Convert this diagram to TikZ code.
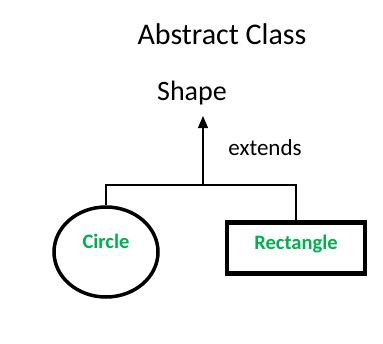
\documentclass[tikz,border=0pt]{standalone}
\usepackage{fontspec}
\setmainfont{Carlito}
\usetikzlibrary{arrows.meta,shapes.geometric}
\definecolor{clsgreen}{RGB}{0,176,80}

\tikzset{
  heading/.style={font=\fontsize{30}{34}\selectfont, inner sep=0pt},
  subclass/.style={draw, line width=3.5pt, inner sep=0pt},
  subname/.style={text=clsgreen, font=\fontsize{20.5}{24}\selectfont\bfseries, inner sep=0pt},
  link/.style={line width=1.2pt}
}

\begin{document}
\begin{tikzpicture}[x=1pt, y=-1pt]
  \useasboundingbox[fill=white] (0,0) rectangle (383,343);
  % titles
  \node[heading] (title) at (222,34) {Abstract Class};
  \node[heading, font=\fontsize{28}{32}\selectfont] (shape) at (192,93) {Shape};
  \node[font=\fontsize{23}{26}\selectfont, inner sep=0pt] (ext) at (265,148) {extends};
  % the two subclasses
  \node[subclass, ellipse, minimum width=104pt, minimum height=90pt] (circle) at (106,252) {};
  \node[subname] (circlelbl) at (106,241) {Circle};
  \node[subclass, rectangle, line width=4.2pt, minimum width=138pt, minimum height=51pt] (rect) at (296,248) {};
  \node[subname] (rectlbl) at (296,244) {Rectangle};
  % inheritance arrow
  \coordinate (jn) at (203,185);
  \coordinate (tip) at (203,116);
  \draw[link, -{Triangle[length=12pt, width=10pt]}] (jn) -- (tip);
  \draw[link] (circle.north) |- (jn) -| (rect.north);
\end{tikzpicture}
\end{document}
